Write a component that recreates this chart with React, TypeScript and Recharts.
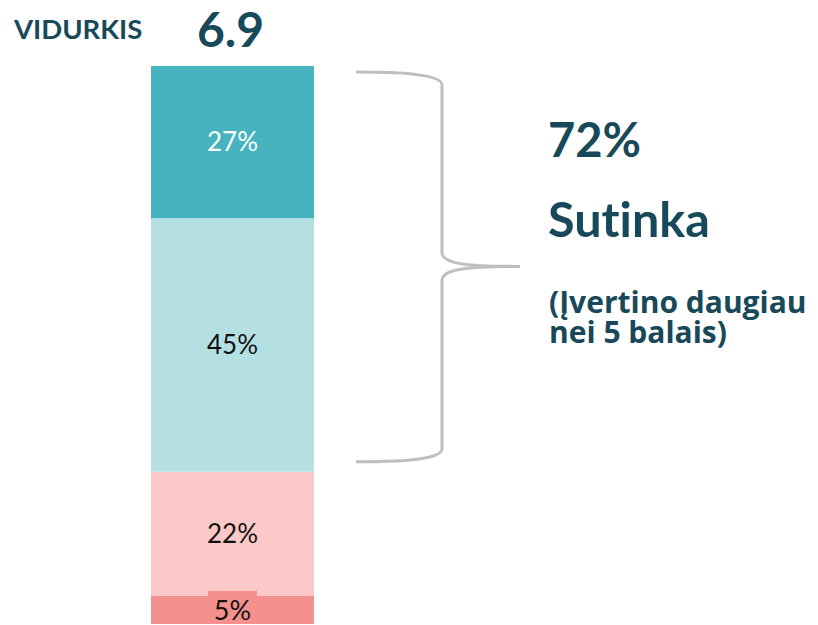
import React from "react";
import { BarChart, Bar, XAxis, YAxis, LabelList, ReferenceArea, Customized } from "recharts";

const categories = [""];
const seriesKeys = ["s5", "s22", "s45", "s27"];
const seriesValues = [5, 22, 45, 27];
const seriesColors = ["#F4908D", "#FDC8C8", "#B4E0E4", "#46B3BE"];
const labelColors = ["#111111", "#111111", "#111111", "#FFFFFF"];
const averageLabel = "VIDURKIS";
const averageValue = "6.9";
const agreeShare = 72;
const agreeTitle = "Sutinka";
const agreeNote = ["(Įvertino daugiau", "nei 5 balais)"];

const data = categories.map((name) => {
  const row: any = { name };
  seriesKeys.forEach((k, i) => (row[k] = seriesValues[i]));
  return row;
});

const DARK = "#17495A";
const FONT = "Lato, 'Open Sans', sans-serif";
const NOLIG: any = { fontVariantLigatures: "none", fontFeatureSettings: "'liga' 0" };

const SmallBoxLabel = (props: any) => {
  const { x, y, width, height, value } = props;
  const cx = x + width / 2;
  const cy = y + height / 2;
  return (
    <g>
      <rect x={cx - 24.5} y={cy - 19} width={49} height={32} fill={seriesColors[0]} />
      <text x={cx} y={cy} textAnchor="middle" dominantBaseline="central" fontSize={27} fontFamily={FONT} fill={labelColors[0]}>
        {value}%
      </text>
    </g>
  );
};

const Brace = (props: any) => {
  const { y, height } = props;
  const top = y + 6;
  const bot = y + height - 10;
  const mid = (top + bot) / 2 - 0.5;
  const xs = 356;
  const xv = 442;
  const xt = 520;
  const d = `M ${xs} ${top} C ${400} ${top}, ${xv} ${top + 2}, ${xv} ${top + 13}
    L ${xv} ${mid - 14} C ${xv} ${mid - 2}, ${470} ${mid}, ${xt} ${mid}
    C ${470} ${mid}, ${xv} ${mid + 2}, ${xv} ${mid + 14}
    L ${xv} ${bot - 13} C ${xv} ${bot - 2}, ${400} ${bot}, ${xs} ${bot}`;
  return <path d={d} fill="none" stroke="#BFBFBF" strokeWidth={3} />;
};

const Texts = () => (
  <g fontFamily={FONT} fontWeight={700} fill={DARK} style={NOLIG}>
    <text x={14} y={39} fontSize={27.5}>{averageLabel}</text>
    <text x={197} y={47} fontSize={48}>{averageValue}</text>
    <text x={548} y={157} fontSize={47}>{agreeShare}%</text>
    <text x={548} y={237} fontSize={48.5} style={NOLIG}>{agreeTitle}</text>
    <text x={549} y={313} fontSize={30} fontFamily="'Open Sans', sans-serif">
      <tspan x={549}>{agreeNote[0]}</tspan>
      <tspan x={549} dy={30}>{agreeNote[1]}</tspan>
    </text>
  </g>
);

export default function App() {
  return (
    <div style={{ position: "absolute", left: 0, top: 0, background: "#fff" }}>
      <BarChart width={818} height={625} data={data} margin={{ top: 66, right: 0, bottom: 1, left: 85 }} barSize={163}>
        <XAxis dataKey="name" height={0} tick={false} tickLine={false} axisLine={{ stroke: "#BFBFBF", strokeWidth: 1.5 }} padding={{ left: 0, right: 438 }} />
        <YAxis hide domain={[0, 99]} />
        {seriesKeys.map((k, i) => (
          <Bar key={k} dataKey={k} stackId="a" fill={seriesColors[i]} isAnimationActive={false}>
            {i === 0 ? (
              <LabelList dataKey={k} content={SmallBoxLabel} />
            ) : (
              <LabelList dataKey={k} position="center" formatter={(v: any) => `${v}%`} fill={labelColors[i]} fontSize={26} fontFamily={FONT} />
            )}
          </Bar>
        ))}
        <ReferenceArea y1={seriesValues[0] + seriesValues[1]} y2={99} fill="none" stroke="none" shape={Brace} />
        <Customized component={Texts} />
      </BarChart>
    </div>
  );
}
